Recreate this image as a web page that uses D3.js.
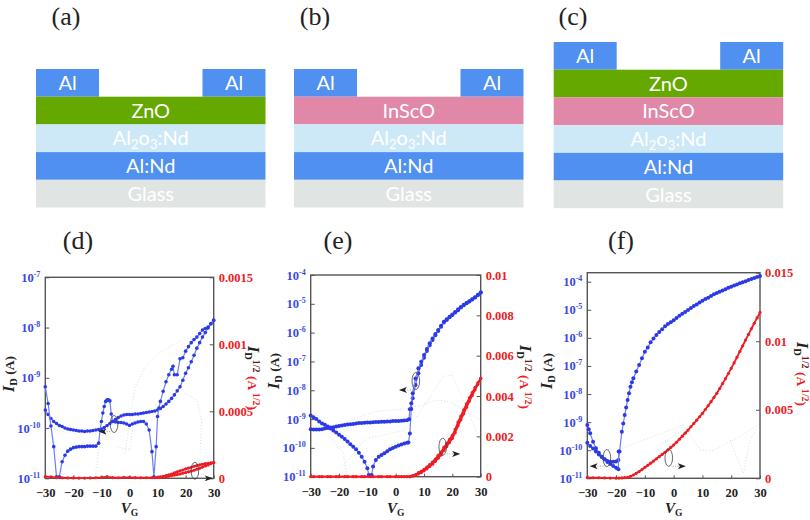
<!DOCTYPE html>
<html>

<head>
    <meta charset="utf-8">
    <style>
        body {
            margin: 0;
            background: #fff;
        }

        svg {
            display: block;
        }

        text {
            font-family: "Liberation Serif", serif;
        }

        .stack text {
            font-family: Lato, sans-serif;
            font-size: 20px;
            fill: #fff;
            text-anchor: middle;
        }

        .panel-tag {
            font-size: 26px;
            fill: #222;
            text-anchor: middle;
        }

        .axis .domain {
            display: none;
        }

        .axis .tick line {
            stroke: #555;
            stroke-width: 1;
        }

        .axis .tick text {
            font-size: 12.5px;
            font-weight: bold;
        }

        .ghost {
            fill: none;
            stroke: #d9dfe8;
            stroke-width: 1;
            stroke-dasharray: 1 2;
        }

        .note {
            fill: none;
            stroke: #444;
            stroke-width: 0.8;
        }

        .note-arrow {
            fill: none;
            stroke: #888;
            stroke-width: 0.8;
            stroke-dasharray: 1 1.5;
        }
    </style>
</head>

<body>
    <svg width="810" height="520"></svg>

    <script src="https://d3js.org/d3.v7.min.js"></script>
    <script>
        // top row, layer names from top to bottom
        let stackA = ["ZnO", "Al2O3:Nd", "Al:Nd", "Glass"]
        let stackB = ["InScO", "Al2O3:Nd", "Al:Nd", "Glass"]
        let stackC = ["ZnO", "InScO", "Al2O3:Nd", "Al:Nd", "Glass"]
        let layerColors = ["#64a800", "#e187a8", "#cde9f7", "#4f90f0", "#e0e5e3"]
        let layerNames = ["ZnO", "InScO", "Al2O3:Nd", "Al:Nd", "Glass"]

        // bottom row, pairs are [VG, log10 of ID]
        let dSweepUp = [[-30, -9.64], [-29, -9.73], [-28, -9.81], [-27, -9.87], [-26, -9.91], [-25, -9.95], [-24, -9.97], [-23, -10.0], [-22, -10.02], [-21, -10.03], [-20, -10.04], [-19, -10.05], [-18, -10.06], [-17, -10.06], [-16, -10.07], [-15, -10.06], [-14, -10.06], [-13, -10.05], [-12, -10.04], [-11, -10.03], [-10, -10.02], [-9, -9.99], [-8, -9.95], [-7, -9.91], [-6, -9.87], [-5, -9.83], [-4, -9.79], [-3, -9.76], [-2, -9.74], [-1, -9.73], [0, -9.73], [1, -9.73], [2, -9.72], [3, -9.72], [4, -9.71], [5, -9.7], [6, -9.69], [7, -9.68], [8, -9.67], [9, -9.66], [10, -9.64], [11, -9.61], [12, -9.57], [13, -9.52], [14, -9.47], [15, -9.41], [16, -9.34], [17, -9.26], [18, -9.18], [19, -9.05], [20, -8.91], [21, -8.8], [22, -8.68], [23, -8.55], [24, -8.41], [25, -8.3], [26, -8.19], [27, -8.1], [28, -8.01], [29, -7.93], [30, -7.85]]
        let dSweepDown = [[-30, -9.18], [-29, -9.51], [-28, -9.96], [-27, -10.37], [-26, -10.97], [-25, -10.97], [-24, -10.67], [-23, -10.54], [-22, -10.46], [-21, -10.42], [-20, -10.39], [-19, -10.38], [-18, -10.37], [-17, -10.37], [-16, -10.37], [-15, -10.36], [-14, -10.36], [-13, -10.36], [-12, -10.36], [-11, -10.3], [-10.5, -10.04], [-10, -9.87], [-9.5, -9.7], [-9, -9.57], [-8.5, -9.47], [-8, -9.44], [-7.5, -9.44], [-7, -9.46], [-6.5, -9.72], [-6, -9.87], [-5, -9.88], [-4, -9.89], [-3, -9.89], [-2, -9.9], [-1, -9.92], [0, -9.95], [1, -9.92], [2, -9.9], [3, -9.88], [4, -9.87], [5, -9.87], [6, -9.92], [7, -10.04], [8, -10.47], [8.7, -10.97], [9.5, -10.37], [10, -9.77], [10.5, -9.6], [11, -9.47], [12, -9.27], [13, -9.08], [14, -8.94], [15, -8.83], [15.5, -8.77], [16, -8.94], [17, -8.94], [18, -8.62], [19, -8.6], [20, -8.47], [21, -8.38], [22, -8.3], [23, -8.24], [24, -8.19], [25, -8.12], [26, -8.05], [27, -8.02], [28, -7.99], [29, -7.92], [30, -7.86]]
        let dRootUp = [[-30, 0.000012], [-28, 0.00001], [-26, 0.000005], [-24, 0.000004], [-22, 0.000003], [-20, 0.000003], [-18, 0.000002], [-16, 0.000002], [-14, 0.000003], [-12, 0.000004], [-10, 0.000006], [-8, 0.000012], [-6, 0.000005], [-4, 0.000004], [-2, 0.000007], [0, 0.000006], [2, 0.000005], [4, 0.000004], [6, 0.000004], [8, 0.000004], [10, 0.000006], [11, 0.000008], [12, 0.00001], [13, 0.000012], [14, 0.000016], [15, 0.00002], [16, 0.000024], [17, 0.000028], [18, 0.000032], [19, 0.000038], [20, 0.000043], [21, 0.000048], [22, 0.000054], [23, 0.00006], [24, 0.000068], [25, 0.000075], [26, 0.000084], [27, 0.000092], [28, 0.0001], [29, 0.00011], [30, 0.000117]]
        let dRootDown = [[9, 0.000004], [10, 0.000006], [11, 0.00001], [12, 0.000015], [13, 0.00002], [14, 0.000026], [15, 0.000032], [16, 0.00004], [17, 0.000048], [18, 0.000056], [19, 0.000062], [20, 0.00007], [21, 0.000076], [22, 0.000082], [23, 0.00009], [24, 0.000095], [25, 0.0001], [26, 0.000105], [27, 0.00011], [28, 0.000112], [29, 0.000115], [30, 0.000117]]
        let dGhosts = [
            [[-1.6, -10.5], [2, -9.18], [5.5, -8.78], [10.3, -8.51], [18.6, -8.25], [29.9, -8.05]],
            [[19.8, -9.31], [23.9, -9.44], [25.7, -9.84], [25.1, -10.5]],
            [[-30, -9.97], [-22.4, -10.1], [-11.7, -10.1]],
            [[-27.7, -10.1], [-23.6, -10.97]],
            [[-12.3, -10.97], [-10.5, -10.3], [-7, -9.9]],
            [[-4.6, -10.37], [0.2, -10.44], [1.4, -9.84]]
        ]

        let eSweepUp = [[-30, -8.88], [-29, -8.94], [-28, -9.0], [-27, -9.08], [-26, -9.15], [-25, -9.2], [-24, -9.26], [-23, -9.33], [-22, -9.4], [-21, -9.47], [-20, -9.54], [-19, -9.61], [-18, -9.69], [-17, -9.78], [-16, -9.87], [-15, -9.96], [-14, -10.05], [-13, -10.17], [-12, -10.31], [-11, -10.48], [-10, -10.71], [-9.5, -10.94]]
        let eSweepUp2 = [[-8.5, -10.94], [-8, -10.65], [-7, -10.42], [-6, -10.31], [-5, -10.25], [-4, -10.19], [-3, -10.12], [-2, -10.05], [-1, -10.0], [0, -9.96], [1, -9.92], [2, -9.88], [3, -9.85], [4, -9.82], [4.5, -9.81], [5, -9.5], [5.5, -8.65], [6, -8.28], [7, -7.82], [8, -7.41], [9, -7.12], [10, -6.87], [11, -6.64], [12, -6.44], [13, -6.26], [14, -6.09], [15, -5.94], [16, -5.8], [17, -5.65], [18, -5.56], [19, -5.47], [20, -5.39], [21, -5.3], [22, -5.22], [23, -5.13], [24, -5.05], [25, -4.98], [26, -4.92], [27, -4.85], [28, -4.78], [29, -4.69], [30, -4.61]]
        let eSweepDown = [[-30, -9.35], [-29, -9.36], [-28, -9.36], [-27, -9.36], [-26, -9.35], [-25, -9.33], [-24, -9.31], [-23, -9.29], [-22, -9.28], [-21, -9.26], [-20, -9.24], [-19, -9.22], [-18, -9.21], [-17, -9.19], [-16, -9.18], [-15, -9.17], [-14, -9.15], [-13, -9.14], [-12, -9.14], [-11, -9.13], [-10, -9.12], [-9, -9.12], [-8, -9.11], [-7, -9.1], [-6, -9.1], [-5, -9.09], [-4, -9.09], [-3, -9.08], [-2, -9.08], [-1, -9.07], [0, -9.07], [1, -9.07], [2, -9.06], [3, -9.05], [4, -9.04], [4.7, -9.01], [5, -8.66], [5.5, -8.45], [6, -8.1], [7, -7.59], [8, -7.24], [9, -7.01], [10, -6.78], [11, -6.57], [12, -6.37], [13, -6.2], [14, -6.05], [15, -5.91], [16, -5.76], [17, -5.62], [18, -5.54], [19, -5.45], [20, -5.37], [21, -5.28], [22, -5.19], [23, -5.11], [24, -5.03], [25, -4.97], [26, -4.91], [27, -4.84], [28, -4.77], [29, -4.69], [30, -4.61]]
        let eRootUp = [[-30, 0], [-27, 0], [-24, 0], [-21, 0], [-18, 0], [-15, 0], [-12, 0], [-9, 0], [-6, 0], [-3, 0], [0, 0], [2, 0], [4, 0], [5, 0], [6, 0.00005], [7, 0.0001], [8, 0.0002], [9, 0.00027], [10, 0.00036], [11, 0.00048], [12, 0.0006], [13, 0.00073], [14, 0.00087], [15, 0.00106], [16, 0.00122], [17, 0.00145], [18, 0.00165], [19, 0.00185], [20, 0.00205], [21, 0.00235], [22, 0.00271], [23, 0.00301], [24, 0.00331], [25, 0.00361], [26, 0.00391], [27, 0.00417], [28, 0.00443], [29, 0.00465], [30, 0.00488]]
        let eRootDown = [[-29, 0], [-26, 0], [-23, 0], [-20, 0], [-17, 0], [-14, 0], [-11, 0], [-8, 0], [-5, 0], [-2, 0], [1, 0], [3, 0], [5, 0], [6, 0.00003], [7, 0.00007], [8, 0.00014], [9, 0.0002], [10, 0.00029], [11, 0.00039], [12, 0.0005], [13, 0.00062], [14, 0.00076], [15, 0.00092], [16, 0.00108], [17, 0.0013], [18, 0.0015], [19, 0.0017], [20, 0.0019], [21, 0.00218], [22, 0.00252], [23, 0.00282], [24, 0.00312], [25, 0.00344], [26, 0.00374], [27, 0.00402], [28, 0.0043], [29, 0.00458], [30, 0.00486]]
        let eGhosts = [
            [[-30, -8.63], [-22, -9.44], [-18.5, -9.15], [-7.9, -8.74], [5, -8.63], [14.5, -8.34], [19.2, -8.4], [29.8, -9.03]],
            [[-18.5, -10.65], [-15, -10.19], [-10.2, -9.67], [3.9, -9.38]],
            [[-23.2, -9.61], [-18.5, -10.19], [-17.3, -10.94]],
            [[7.4, -8.92], [16.8, -7.53], [19.8, -7.47], [23.9, -8.34], [29.8, -9.73]]
        ]

        let fSweepUp = [[-30, -9.1], [-29.5, -9.25], [-29, -9.4], [-28, -9.7], [-27, -9.93], [-26, -10.09], [-25, -10.23], [-24, -10.32], [-23, -10.38], [-22, -10.41], [-21, -10.41], [-20, -10.4], [-19.2, -10.35], [-18.8, -10.05], [-18, -9.34], [-17.5, -9.05], [-17, -8.75], [-16.5, -8.48], [-16, -8.21], [-15.5, -7.97], [-15, -7.74], [-14.5, -7.58], [-14, -7.44], [-13, -7.2], [-12, -6.97], [-11, -6.73], [-10, -6.49], [-9, -6.34], [-8, -6.16], [-7, -6.02], [-6, -5.9], [-5, -5.79], [-4, -5.69], [-3, -5.59], [-2, -5.51], [-1, -5.44], [0, -5.37], [1, -5.29], [2, -5.21], [3, -5.14], [4, -5.08], [5, -5.01], [6, -4.94], [7, -4.87], [8, -4.81], [9, -4.74], [10, -4.68], [11, -4.62], [12, -4.57], [13, -4.51], [14, -4.45], [15, -4.4], [16, -4.36], [17, -4.31], [18, -4.27], [19, -4.22], [20, -4.18], [21, -4.14], [22, -4.1], [23, -4.06], [24, -4.02], [25, -3.98], [26, -3.94], [27, -3.9], [28, -3.87], [29, -3.83], [30, -3.8]]
        let fSweepDown = [[-30, -9.73], [-29, -9.85], [-28, -9.94], [-27, -10.05], [-26, -10.15], [-25, -10.23], [-24, -10.32], [-23, -10.42], [-22, -10.49], [-21, -10.56], [-20, -10.62], [-19.2, -10.68], [-19.1, -10.05]]
        let fRoot = [[-30, 0.00005], [-28, 0.00004], [-26, 0.00004], [-24, 0.00003], [-22, 0.00002], [-20, 0.00001], [-19, 0.00002], [-18, 0.00003], [-17, 0.00005], [-16, 0.00007], [-15, 0.00015], [-14, 0.00024], [-13, 0.00036], [-12, 0.00049], [-11, 0.00064], [-10, 0.0008], [-9, 0.00095], [-8, 0.0011], [-7, 0.00126], [-6, 0.00142], [-5, 0.00158], [-4, 0.00174], [-3, 0.0019], [-2, 0.00207], [-1, 0.00225], [0, 0.00243], [1, 0.00263], [2, 0.00285], [3, 0.00307], [4, 0.00329], [5, 0.00352], [6, 0.00376], [7, 0.004], [8, 0.00424], [9, 0.00449], [10, 0.00474], [11, 0.00502], [12, 0.0053], [13, 0.00559], [14, 0.0059], [15, 0.0062], [16, 0.00655], [17, 0.00691], [18, 0.00727], [19, 0.00764], [20, 0.00802], [21, 0.00842], [22, 0.00883], [23, 0.00925], [24, 0.00967], [25, 0.01009], [26, 0.0105], [27, 0.01091], [28, 0.01131], [29, 0.0117], [30, 0.0121]]
        let fGhosts = [
            [[-18.1, -9.93], [3.4, -9.1], [9.2, -9.99], [13.8, -10.02]],
            [[13.8, -9.99], [23, -9.52], [30, -9.04]],
            [[-4.8, -9.81], [3.4, -9.28]],
            [[19.6, -9.64], [24.2, -10.82], [26.5, -9.64], [30, -9.04]]
        ]

        let vgTicks = [-30, -20, -10, 0, 10, 20, 30]
        let dDecades = [-11, -10, -9, -8, -7]
        let eDecades = [-11, -10, -9, -8, -7, -6, -5, -4]
        let fDecades = [-11, -10, -9, -8, -7, -6, -5, -4]
        let dRootTicks = [0, 0.0005, 0.001, 0.0015]
        let eRootTicks = [0, 0.002, 0.004, 0.006, 0.008, 0.01]
        let fRootTicks = [0, 0.005, 0.01, 0.015]

        // ellipses: [VG, log ID], arrows: [VG start, VG end, log ID]
        let dEllipses = [[-5.5, -9.92], [23.3, -10.85]]
        let dArrows = [[-6.9, -10.7, -10.07], [24.5, 29.3, -11]]
        let eEllipses = [[7.1, -7.68], [16.6, -9.96]]
        let eArrows = [[6.2, 1.5, -7.99], [18, 22.4, -10.21]]
        let fEllipses = [[-23.2, -10.28], [-1.7, -10.27]]
        let fArrows = [[-24.4, -28.85, -10.57], [-0.35, 3.9, -10.57]]

        let blue = "#2b3ae6"
        let red = "#ee1c25"

        let svg = d3.select("svg")

        svg.append("defs").append("marker")
            .attr("id", "head")
            .attr("viewBox", "0 0 8 6")
            .attr("refX", 7)
            .attr("refY", 3)
            .attr("markerWidth", 8)
            .attr("markerHeight", 6)
            .attr("markerUnits", "userSpaceOnUse")
            .attr("orient", "auto")
            .append("path")
            .attr("d", "M0,0L8,3L0,6L2,3Z")
            .attr("fill", "#222")

        let layerColor = d3.scaleOrdinal().domain(layerNames).range(layerColors)

        function drawStack(left, top, layers) {
            let g = svg.append("g").attr("class", "stack")
            let width = 229.5
            let contactWidth = 63
            let rowH = 27.7
            let y = d3.scaleBand()
                .domain(d3.range(layers.length + 1))
                .range([top, top + rowH * (layers.length + 1)])

            // the two Al contacts
            let contactX = [left, left + width - contactWidth]
            contactX.forEach(x => {
                g.append("rect")
                    .attr("x", x)
                    .attr("y", y(0))
                    .attr("width", contactWidth)
                    .attr("height", y.bandwidth())
                    .attr("fill", "#4f90f0")
                g.append("text")
                    .attr("x", x + contactWidth / 2)
                    .attr("y", y(0) + 21)
                    .text("Al")
            })

            layers.forEach((name, i) => {
                g.append("rect")
                    .attr("x", left)
                    .attr("y", y(i + 1))
                    .attr("width", width)
                    .attr("height", y.bandwidth())
                    .attr("fill", layerColor(name))

                let label = g.append("text")
                    .attr("x", left + width / 2)
                    .attr("y", y(i + 1) + 21)

                if (name == "Al2O3:Nd") {
                    label.append("tspan").text("Al")
                    label.append("tspan").attr("font-size", 13).attr("dy", 4).text("2")
                    label.append("tspan").attr("dy", -4).text("o")
                    label.append("tspan").attr("font-size", 13).attr("dy", 4).text("3")
                    label.append("tspan").attr("dy", -4).text(":Nd")
                } else {
                    label.text(name)
                }
            })
        }

        drawStack(36, 69, stackA)
        drawStack(294, 69, stackB)
        drawStack(553.7, 42, stackC)

        function tag(x, y, label) {
            svg.append("text")
                .attr("class", "panel-tag")
                .attr("x", x)
                .attr("y", y)
                .text(label)
        }
        tag(66, 25, "(a)")
        tag(315, 25, "(b)")
        tag(573, 25, "(c)")
        tag(78, 249, "(d)")
        tag(338, 249, "(e)")
        tag(621, 249, "(f)")

        function drawPanel(p) {
            let g = svg.append("g")

            let x = d3.scaleLinear().domain([-30, 30]).range([p.left, p.right])
            let y = d3.scaleLog().domain(p.logRange.map(e => Math.pow(10, e))).range([p.bottom, p.top])
            let yRoot = d3.scaleLinear().domain([0, p.rootMax]).range([p.bottom, p.top])

            let logLine = d3.line().x(d => x(d[0])).y(d => y(Math.pow(10, d[1])))
            let rootLine = d3.line().x(d => x(d[0])).y(d => yRoot(d[1]))

            p.ghosts.forEach(path => {
                g.append("path").attr("class", "ghost").attr("d", logLine(path))
            })

            // axes, ticks point into the frame
            let bottomAxis = g.append("g")
                .attr("class", "axis")
                .attr("transform", `translate(0,${p.bottom})`)
                .call(d3.axisBottom(x).tickValues(vgTicks).tickSize(-3).tickPadding(10))
            bottomAxis.selectAll(".tick text").attr("fill", "#222")

            let leftAxis = g.append("g")
                .attr("class", "axis")
                .attr("transform", `translate(${p.left},0)`)
                .call(d3.axisLeft(y).tickValues(p.decades.map(e => Math.pow(10, e))).tickSize(-4).tickPadding(5).tickFormat(() => "10"))
            leftAxis.selectAll(".tick text")
                .attr("fill", "#3a48e8")
                .each(function (d) {
                    d3.select(this).append("tspan")
                        .attr("font-size", 8)
                        .attr("dy", -5)
                        .text(Math.round(Math.log10(d)))
                })

            let rightAxis = g.append("g")
                .attr("class", "axis")
                .attr("transform", `translate(${p.right},0)`)
                .call(d3.axisRight(yRoot).tickValues(p.rootTicks).tickSize(-4).tickPadding(5).tickFormat(d => String(+d.toFixed(4))))
            rightAxis.selectAll(".tick text").attr("fill", red)

            g.append("rect")
                .attr("x", p.left)
                .attr("y", p.top)
                .attr("width", p.right - p.left)
                .attr("height", p.bottom - p.top)
                .attr("fill", "none")
                .attr("stroke", "#555")
                .attr("stroke-width", 1.4)

            // measured curves
            p.sweeps.forEach(sweep => {
                g.append("path")
                    .attr("d", logLine(sweep))
                    .attr("fill", "none")
                    .attr("stroke", "#6f7fee")
                    .attr("stroke-width", 1.2)
                g.append("g").selectAll("circle")
                    .data(sweep.filter(d => d[1] > -11))
                    .join("circle")
                    .attr("cx", d => x(d[0]))
                    .attr("cy", d => y(Math.pow(10, d[1])))
                    .attr("r", p.dot)
                    .attr("fill", blue)
            })

            p.roots.forEach(root => {
                g.append("path")
                    .attr("d", rootLine(root))
                    .attr("fill", "none")
                    .attr("stroke", red)
                    .attr("stroke-width", 1.8)
                g.append("g").selectAll("circle")
                    .data(root)
                    .join("circle")
                    .attr("cx", d => x(d[0]))
                    .attr("cy", d => yRoot(d[1]))
                    .attr("r", 1.6)
                    .attr("fill", red)
            })

            // ellipse marks and the arrows that say which axis to read
            p.ellipses.forEach(d => {
                g.append("ellipse")
                    .attr("class", "note")
                    .attr("cx", x(d[0]))
                    .attr("cy", y(Math.pow(10, d[1])))
                    .attr("rx", 3.8)
                    .attr("ry", 8.5)
            })
            p.arrows.forEach(d => {
                g.append("line")
                    .attr("class", "note-arrow")
                    .attr("x1", x(d[0]))
                    .attr("x2", x(d[1]))
                    .attr("y1", y(Math.pow(10, d[2])))
                    .attr("y2", y(Math.pow(10, d[2])))
                    .attr("marker-end", "url(#head)")
            })

            // V_G under the plot
            let vg = g.append("text")
                .attr("x", (p.left + p.right) / 2)
                .attr("y", 513)
                .attr("text-anchor", "middle")
                .attr("font-weight", "bold")
                .attr("fill", "#222")
            vg.append("tspan").attr("font-style", "italic").attr("font-size", 15).text("V")
            vg.append("tspan").attr("font-size", 9.5).attr("dy", 3).text("G")

            // I_D (A) on the left
            let leftLabel = g.append("text")
                .attr("transform", `translate(${p.leftLabelX},${p.leftLabelY}) rotate(-90)`)
                .attr("text-anchor", "middle")
                .attr("font-weight", "bold")
                .attr("fill", "#222")
            leftLabel.append("tspan").attr("font-style", "italic").attr("font-size", 16).text("I")
            leftLabel.append("tspan").attr("font-size", 10.5).attr("dy", 3).text("D")
            leftLabel.append("tspan").attr("font-size", 13.5).attr("dy", -3).text(" (A)")

            // I_D^1/2 (A^1/2) on the right, reads downward
            let rightLabel = g.append("text")
                .attr("transform", `translate(${p.rightLabelX},${p.rightLabelY}) rotate(90)`)
                .attr("text-anchor", "middle")
                .attr("font-weight", "bold")
                .attr("fill", red)
            rightLabel.append("tspan").attr("font-style", "italic").attr("font-size", 16).attr("fill", "#222").text("I")
            rightLabel.append("tspan").attr("font-size", 10.5).attr("dy", 3).attr("fill", "#222").text("D")
            rightLabel.append("tspan").attr("font-size", 10).attr("dy", -8).attr("fill", "#661a1e").text("1/2")
            rightLabel.append("tspan").attr("font-size", 13.5).attr("dy", 5).text(" (A")
            rightLabel.append("tspan").attr("font-size", 10).attr("dy", -5).text(" 1/2")
            rightLabel.append("tspan").attr("font-size", 13.5).attr("dy", 5).text(")")
        }

        drawPanel({
            left: 45.3, right: 213.7, top: 277.3, bottom: 478.3,
            logRange: [-11, -7], rootMax: 0.0015, dot: 1.8,
            decades: dDecades, rootTicks: dRootTicks,
            sweeps: [dSweepUp, dSweepDown], roots: [dRootUp, dRootDown], ghosts: dGhosts,
            ellipses: dEllipses, arrows: dArrows,
            leftLabelX: 14, leftLabelY: 374, rightLabelX: 248, rightLabelY: 378
        })

        drawPanel({
            left: 310.7, right: 480.7, top: 275, bottom: 476.7,
            logRange: [-11, -4], rootMax: 0.01, dot: 2,
            decades: eDecades, rootTicks: eRootTicks,
            sweeps: [eSweepUp, eSweepUp2, eSweepDown], roots: [eRootUp, eRootDown], ghosts: eGhosts,
            ellipses: eEllipses, arrows: eArrows,
            leftLabelX: 279, leftLabelY: 371, rightLabelX: 520, rightLabelY: 377
        })

        drawPanel({
            left: 587.3, right: 760, top: 272.7, bottom: 478.3,
            logRange: [-11, -3.68], rootMax: 0.015, dot: 2,
            decades: fDecades, rootTicks: fRootTicks,
            sweeps: [fSweepUp, fSweepDown], roots: [fRoot], ghosts: fGhosts,
            ellipses: fEllipses, arrows: fArrows,
            leftLabelX: 552, leftLabelY: 371, rightLabelX: 797, rightLabelY: 374
        })
    </script>
</body>

</html>
